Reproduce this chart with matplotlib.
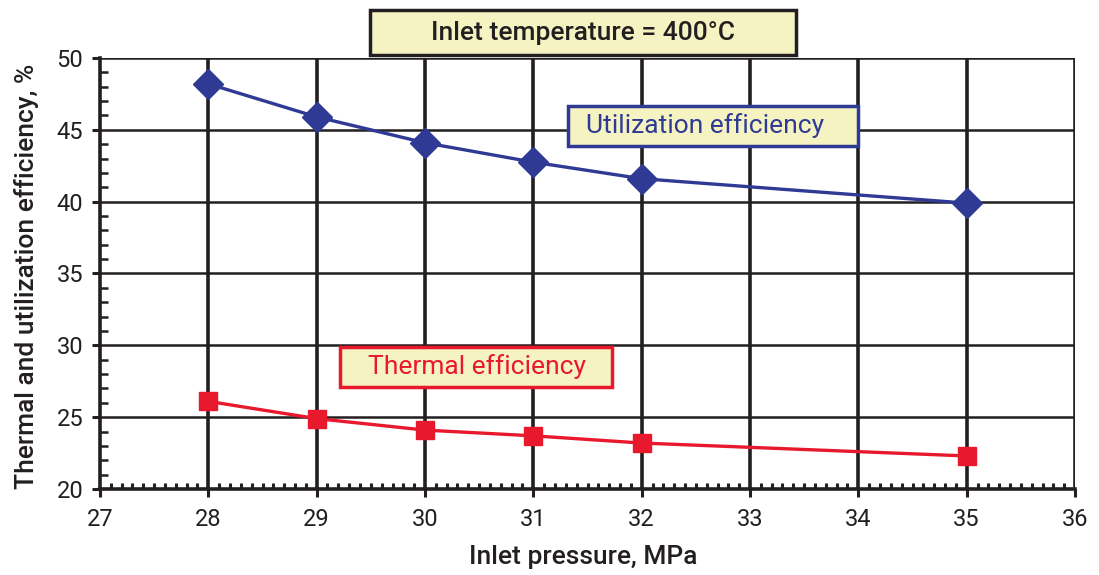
import matplotlib
matplotlib.use("Agg")
import matplotlib.pyplot as plt
from matplotlib.ticker import MultipleLocator
from matplotlib.patches import Rectangle

pressure = [28, 29, 30, 31, 32, 35]
utilization = [48.2, 45.9, 44.1, 42.75, 41.6, 39.9]
thermal = [26.1, 24.9, 24.1, 23.7, 23.2, 22.3]
x_ticks = [27, 28, 29, 30, 31, 32, 33, 34, 35, 36]
y_ticks = [20, 25, 30, 35, 40, 45, 50]

BLUE = "#2E3A94"
RED = "#E8192C"
BOXFILL = "#F6F3C2"
DARK = "#231F20"

plt.rcParams['font.family'] = ['Roboto', 'DejaVu Sans']

W, H = 1099, 575
fig = plt.figure(figsize=(W/100, H/100), dpi=100)
ax = fig.add_axes([100/W, 86/H, 975/W, 431/H])

ax.set_xlim(27, 36)
ax.set_ylim(20, 50)
ax.set_xticks(x_ticks)
ax.set_yticks(y_ticks)
ax.xaxis.set_minor_locator(MultipleLocator(0.1))
ax.yaxis.set_minor_locator(MultipleLocator(1))

for x in x_ticks[1:]:
    ax.axvline(x, color=DARK, lw=2.6, zorder=1)
for y in y_ticks[1:]:
    ax.axhline(y, color=DARK, lw=1.8, zorder=1)

for s in ['top', 'right']:
    ax.spines[s].set_visible(False)
for s in ['left', 'bottom']:
    ax.spines[s].set_linewidth(2.6)
    ax.spines[s].set_color(DARK)

ax.tick_params(axis='both', which='major', direction='out', length=6, width=2.2,
               color=DARK, labelsize=17, labelcolor=DARK, pad=6)
ax.tick_params(axis='x', which='major', pad=8)
ax.tick_params(axis='x', which='minor', direction='in', length=4, width=2.2, color=DARK)
ax.tick_params(axis='y', which='minor', direction='in', length=6, width=1.8, color=DARK)

ax.plot(pressure, utilization, color=BLUE, lw=2.4, marker='D', markersize=15,
        markerfacecolor=BLUE, markeredgecolor=BLUE, zorder=3, clip_on=False)
ax.plot(pressure, thermal, color=RED, lw=2.4, marker='s', markersize=13.5,
        markerfacecolor=RED, markeredgecolor=RED, zorder=3, clip_on=False)

fig.text(583/W, 1 - 557/H, "Inlet pressure, MPa", fontsize=19, fontweight='medium',
         color=DARK, ha='center', va='center')
fig.text(27/W, 1 - 276/H, "Thermal and utilization efficiency, %", fontsize=19,
         fontweight='medium', color=DARK, ha='center', va='center', rotation=90)


def box(x0, y0, x1, y1, edge):
    fig.patches.append(Rectangle((x0/W, 1 - y1/H), (x1 - x0)/W, (y1 - y0)/H,
                                 transform=fig.transFigure, facecolor=BOXFILL,
                                 edgecolor=edge, linewidth=2.5, zorder=5))


box(370, 10, 796, 55, DARK)
fig.text(583/W, 1 - 33/H, "Inlet temperature = 400°C", fontsize=19, fontweight='medium',
         color=DARK, ha='center', va='center', zorder=6)
box(568, 106, 858, 146, BLUE)
fig.text(705/W, 1 - 126/H, "Utilization efficiency", fontsize=19, color=BLUE,
         ha='center', va='center', zorder=6)
box(340, 347, 612, 387, RED)
fig.text(477/W, 1 - 367/H, "Thermal efficiency", fontsize=19, color=RED,
         ha='center', va='center', zorder=6)

fig.savefig("out.png", dpi=100)
